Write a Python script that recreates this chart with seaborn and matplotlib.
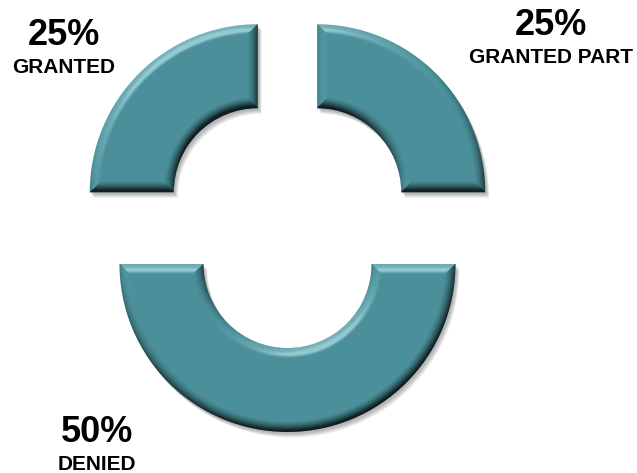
import numpy as np
import matplotlib
matplotlib.use("Agg")
import matplotlib.pyplot as plt
import matplotlib.patheffects as pe
import seaborn as sns

# Decision shares, drawn counter-clockwise from 12 o'clock
categories = ["GRANTED", "DENIED", "GRANTED PART"]
shares = [25, 50, 25]

sns.set_theme(style="white")
plt.rcParams["font.family"] = ["Liberation Sans", "DejaVu Sans"]

W, H = 637, 473
fig = plt.figure(figsize=(W / 100, H / 100), dpi=100)
ax = fig.add_axes([0, 0, 1, 1])

face = "#4A8F99"
wedges, _ = ax.pie(
    shares,
    startangle=90,
    counterclock=True,
    radius=168,
    center=(287.5, 251),
    explode=[42] * len(shares),
    wedgeprops=dict(width=84, facecolor=face, edgecolor="none", linewidth=0),
)

# soft drop shadow towards the lower right
shadow = [pe.SimplePatchShadow(offset=(1.0 + i * 0.6, -1.5 - i * 0.8),
                               shadow_rgbFace="black", alpha=0.08)
          for i in range(4)]
for w in wedges:
    w.set_path_effects(shadow + [pe.Normal()])

# rounded bevel shading: each edge band tilts towards its outward normal
yy, xx = np.mgrid[0:H, 0:W] + 0.5
elev = np.deg2rad(40)
lxy = np.array([-0.4, 0.92])
lxy = lxy / np.linalg.norm(lxy) * np.cos(elev)
lz = np.sin(elev)
half = np.array([lxy[0], lxy[1], lz + 1.0])
half = half / np.linalg.norm(half)
spec_flat = half[2] ** 40
bev = 11.0
for w in wedges:
    cx, cy = w.center
    ro = w.r
    ri = w.r - w.width
    t1, t2 = np.deg2rad(w.theta1), np.deg2rad(w.theta2)
    dx, dy = xx - cx, yy - cy
    r = np.hypot(dx, dy) + 1e-9
    phi = np.arctan2(dy, dx)
    ux, uy = dx / r, dy / r
    d_out = ro - r
    d_in = r - ri
    d1 = np.where(np.cos(phi - t1) > 0, r * np.sin(phi - t1), r)
    d2 = np.where(np.cos(t2 - phi) > 0, r * np.sin(t2 - phi), r)
    D = np.stack([d_out, d_in, d1, d2])
    NX = np.stack([ux, -ux, np.full_like(r, np.sin(t1)), np.full_like(r, -np.sin(t2))])
    NY = np.stack([uy, -uy, np.full_like(r, -np.cos(t1)), np.full_like(r, np.cos(t2))])
    k = np.argmin(D, axis=0)[None]
    dmin = np.take_along_axis(D, k, 0)[0]
    nx = np.take_along_axis(NX, k, 0)[0]
    ny = np.take_along_axis(NY, k, 0)[0]

    g = np.clip(1.0 - dmin / bev, 0, 1)
    alpha_t = np.deg2rad(74) * g ** 1.3
    sa, ca = np.sin(alpha_t), np.cos(alpha_t)
    mx, my, mz = nx * sa, ny * sa, ca
    diffuse = mx * lxy[0] + my * lxy[1] + mz * lz - lz
    spec = np.clip(mx * half[0] + my * half[1] + mz * half[2], 0, None) ** 40 - spec_flat
    val = 0.95 * diffuse + 0.7 * spec

    rgba = np.zeros((H, W, 4))
    pos = val > 0
    rgba[pos, :3] = (0.78, 0.95, 0.97)
    rgba[..., 3] = np.where(pos, np.clip(val * 1.2, 0, 0.6), np.clip(-val * 0.85, 0, 0.78))
    im = ax.imshow(rgba, extent=(0, W, 0, H), origin="lower",
                   interpolation="bilinear", zorder=w.get_zorder() + 0.1)
    im.set_clip_path(w)

# percentage and category labels
label_pos = {
    "GRANTED": (64, 428, 400),
    "DENIED": (97, 31, 3),
    "GRANTED PART": (551, 438, 410),
}
for name, share in zip(categories, shares):
    x, y_pct, y_cat = label_pos[name]
    ax.text(x, y_pct, f"{share}%", ha="center", va="baseline",
            fontsize=26, fontweight="bold", color="black")
    ax.text(x, y_cat, name, ha="center", va="baseline",
            fontsize=15, fontweight="bold", color="black")

ax.set_xlim(0, W)
ax.set_ylim(0, H)
ax.set_aspect("equal")
ax.axis("off")
fig.savefig("out.png", dpi=100, facecolor="white")
